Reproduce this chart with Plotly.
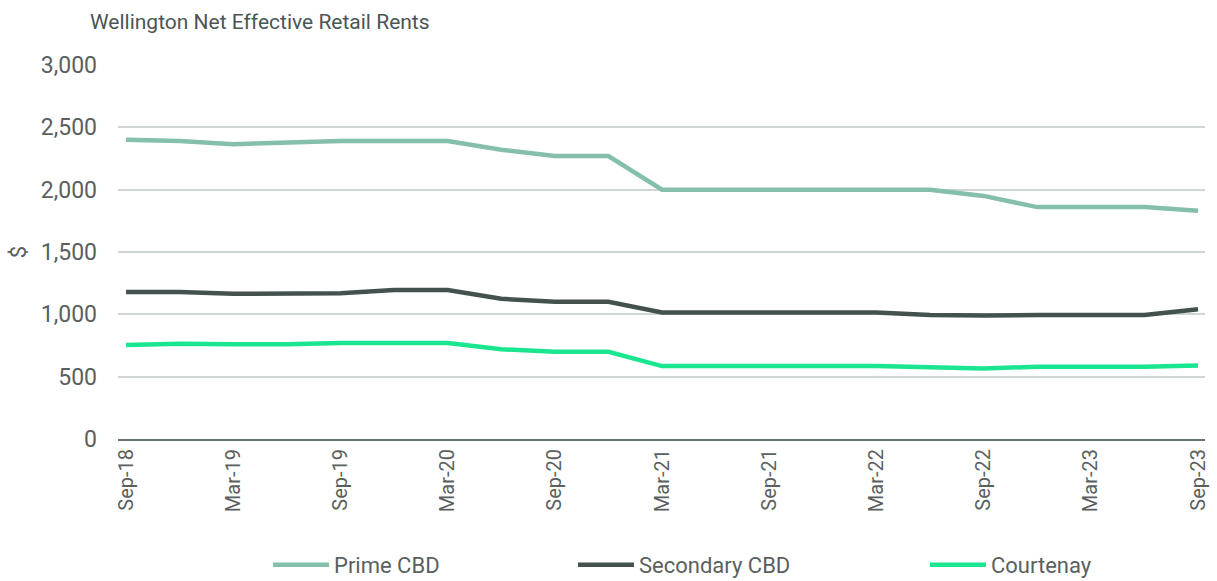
import plotly.graph_objects as go

quarters = ["Sep-18", "Dec-18", "Mar-19", "Jun-19", "Sep-19", "Dec-19", "Mar-20",
            "Jun-20", "Sep-20", "Dec-20", "Mar-21", "Jun-21", "Sep-21", "Dec-21",
            "Mar-22", "Jun-22", "Sep-22", "Dec-22", "Mar-23", "Jun-23", "Sep-23"]
prime_cbd = [2400, 2390, 2365, 2380, 2390, 2390, 2390, 2320, 2270, 2270, 2000,
             2000, 2000, 2000, 2000, 2000, 1950, 1860, 1860, 1860, 1830]
secondary_cbd = [1180, 1180, 1165, 1165, 1170, 1195, 1195, 1125, 1100, 1100, 1015,
                 1015, 1015, 1015, 1015, 995, 990, 995, 995, 995, 1040]
courtenay = [755, 765, 760, 760, 770, 770, 770, 720, 700, 700, 585,
             585, 585, 585, 585, 575, 565, 580, 580, 580, 590]
tick_labels = quarters[::2]
y_ticks = [0, 500, 1000, 1500, 2000, 2500, 3000]

series = [("Prime CBD", prime_cbd, "#84BFAB", 234),
          ("Secondary CBD", secondary_cbd, "#44524F", 281),
          ("Courtenay", courtenay, "#19E68F", 180)]

fig = go.Figure()
for name, vals, col, lw in series:
    fig.add_trace(go.Scatter(x=quarters, y=vals, name=name, mode="lines",
                             line=dict(color=col, width=4.5), legendwidth=lw))

fig.update_layout(
    width=1217, height=581,
    margin=dict(l=118, r=12, t=65, b=142),
    paper_bgcolor="white", plot_bgcolor="white",
    font=dict(family="Roboto", color="#5a5f60", size=18),
    title=dict(text="Wellington Net Effective Retail Rents", x=90/1217, xanchor="left",
               y=1-22/581, yanchor="middle",
               font=dict(family="Roboto", size=21, color="#4a5656")),
    showlegend=True,
    legend=dict(orientation="h", xref="container", yref="container",
                x=268/1217, xanchor="left", y=1-565/581, yanchor="middle",
                itemwidth=56, font=dict(size=22, color="#5a5f60"),
                traceorder="normal"),
)
fig.update_xaxes(type="category", range=[-0.15, 20.13], automargin=False,
                 tickmode="array", tickvals=tick_labels, ticktext=tick_labels,
                 tickangle=-90, showgrid=False, showline=True,
                 linecolor="#66736f", linewidth=2, ticks="",
                 tickfont=dict(size=20, color="#5a5f60"))
fig.update_yaxes(range=[0, 3000], tickvals=y_ticks, tickformat=",", automargin=False,
                 showgrid=True, gridcolor="#d0d5d5", gridwidth=2,
                 zeroline=False, ticks="", ticklabelstandoff=20,
                 tickfont=dict(size=23, color="#5a5f60"),
                 title=dict(text="$", standoff=8, font=dict(size=22, color="#5a5f60")))

fig.write_html("out.html")
